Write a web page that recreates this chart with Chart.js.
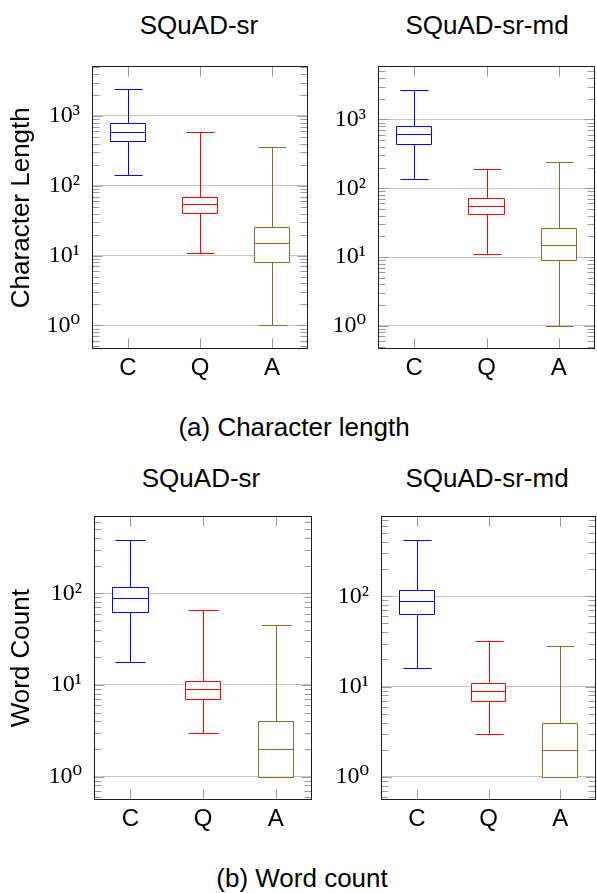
<!DOCTYPE html>
<html>
<head>
<meta charset="utf-8">
<script src="https://cdn.jsdelivr.net/npm/chart.js@4.4.0/dist/chart.umd.min.js"></script>
<style>
    body { margin: 0; background: #fff; }
    #page { position: relative; width: 597px; height: 893px; background: #fff; overflow: hidden; }
    #page canvas { position: absolute; }
    .label { position: absolute; font-family: "Liberation Sans", Arial, sans-serif; font-size: 26px; line-height: 26px; color: #000; white-space: nowrap; transform: translateX(-50%); }
</style>
</head>
<body>
<div id="page">
    <div class="label" style="left:199px; top:12px;">SQuAD-sr</div>
    <div class="label" style="left:487px; top:12px;">SQuAD-sr-md</div>
    <canvas id="charSrChart" width="314" height="349" style="left:0; top:40px;"></canvas>
    <canvas id="charSrMdChart" width="279" height="349" style="left:318px; top:40px;"></canvas>
    <div class="label" style="left:294px; top:414px;">(a) Character length</div>

    <div class="label" style="left:201px; top:465px;">SQuAD-sr</div>
    <div class="label" style="left:487px; top:465px;">SQuAD-sr-md</div>
    <canvas id="wordSrChart" width="316" height="350" style="left:0; top:490px;"></canvas>
    <canvas id="wordSrMdChart" width="276" height="350" style="left:321px; top:490px;"></canvas>
    <div class="label" style="left:302px; top:865px;">(b) Word count</div>
</div>
<script>
// categories: context, question, answer
const categories = ['C', 'Q', 'A'];
const boxColors = ['#0000ff', '#ff0000', '#996633'];

// (a) character length, SQuAD-sr
const charSrLow = [140, 11, 1];
const charSrQ1 = [435, 41, 8];
const charSrMed = [595, 54, 15];
const charSrQ3 = [790, 70, 26];
const charSrHigh = [2400, 590, 355];

// (a) character length, SQuAD-sr-md
const charSrMdLow = [134, 11, 1];
const charSrMdQ1 = [440, 42, 9];
const charSrMdMed = [610, 55, 15];
const charSrMdQ3 = [810, 71, 26];
const charSrMdHigh = [2680, 191, 240];

// (b) word count, SQuAD-sr
const wordSrLow = [18, 3, 1];
const wordSrQ1 = [63, 7, 1];
const wordSrMed = [88, 9, 2];
const wordSrQ3 = [116, 11, 4];
const wordSrHigh = [380, 66, 45];

// (b) word count, SQuAD-sr-md
const wordSrMdLow = [16, 3, 1];
const wordSrMdQ1 = [64, 7, 1];
const wordSrMdMed = [89, 9, 2];
const wordSrMdQ3 = [118, 11, 4];
const wordSrMdHigh = [417, 32, 28];

// y tick labels (decades)
const charTicks = [1, 10, 100, 1000];
const wordTicks = [1, 10, 100];
const superDigits = { '0': '⁰', '1': '¹', '2': '²', '3': '³', '4': '⁴' };

function tickLabel(value) {
    const exp = String(Math.round(Math.log10(value)));
    return '10' + exp.split('').map(d => superDigits[d]).join('');
}

// box outline, whiskers, medians, frame and inner ticks
function boxPlugin(cfg) {
    return {
        id: 'boxWhiskers',
        afterDatasetsDraw(chart) {
            const { ctx, scales: { x, y } } = chart;
            const bars = chart.getDatasetMeta(0).data;
            const step = x.width / categories.length;
            const py = v => Math.round(y.getPixelForValue(v)) + 0.5;
            ctx.save();
            ctx.lineWidth = 1;
            categories.forEach((c, i) => {
                const cx = Math.round(x.getPixelForValue(i)) + 0.5;
                const cap = Math.round(step * 0.2);
                const bl = Math.round(bars[i].x - bars[i].width / 2) + 0.5;
                const br = Math.round(bars[i].x + bars[i].width / 2) - 0.5;
                ctx.strokeStyle = boxColors[i];
                ctx.beginPath();
                // box
                ctx.rect(bl, py(cfg.q3[i]), br - bl, py(cfg.q1[i]) - py(cfg.q3[i]));
                // whiskers
                ctx.moveTo(cx, py(cfg.q3[i]));
                ctx.lineTo(cx, py(cfg.high[i]));
                ctx.moveTo(cx, py(cfg.q1[i]));
                ctx.lineTo(cx, py(cfg.low[i]));
                ctx.moveTo(cx - cap, py(cfg.high[i]));
                ctx.lineTo(cx + cap, py(cfg.high[i]));
                ctx.moveTo(cx - cap, py(cfg.low[i]));
                ctx.lineTo(cx + cap, py(cfg.low[i]));
                // median
                ctx.moveTo(bl, py(cfg.med[i]));
                ctx.lineTo(br, py(cfg.med[i]));
                ctx.stroke();
            });
            ctx.restore();
        },
        afterDraw(chart) {
            const { ctx, chartArea, scales: { x, y } } = chart;
            const left = Math.round(chartArea.left) + 0.5;
            const right = Math.round(chartArea.right) - 0.5;
            const top = Math.round(chartArea.top) + 0.5;
            const bottom = Math.round(chartArea.bottom) - 0.5;
            ctx.save();
            ctx.lineWidth = 1;
            ctx.strokeStyle = '#999999';
            ctx.beginPath();
            // minor and major y ticks, both sides
            const kMin = Math.floor(Math.log10(cfg.yMin));
            const kMax = Math.ceil(Math.log10(cfg.yMax));
            for (let k = kMin; k <= kMax; k++) {
                for (let m = 1; m <= 9; m++) {
                    const v = m * Math.pow(10, k);
                    if (v < cfg.yMin || v > cfg.yMax) continue;
                    const len = m === 1 ? 10 : 7;
                    const yy = Math.round(y.getPixelForValue(v)) + 0.5;
                    ctx.moveTo(left, yy);
                    ctx.lineTo(left + len, yy);
                    ctx.moveTo(right, yy);
                    ctx.lineTo(right - len, yy);
                }
            }
            // category ticks, top and bottom
            categories.forEach((c, i) => {
                const cx = Math.round(x.getPixelForValue(i)) + 0.5;
                ctx.moveTo(cx, top);
                ctx.lineTo(cx, top + 10);
                ctx.moveTo(cx, bottom);
                ctx.lineTo(cx, bottom - 10);
            });
            ctx.stroke();
            // axis frame
            ctx.strokeStyle = '#1a1a1a';
            ctx.strokeRect(left, top, right - left, bottom - top);
            ctx.restore();
        }
    };
}

function makePanel(id, cfg) {
    const ctx = document.getElementById(id).getContext('2d');
    return new Chart(ctx, {
        type: 'bar',
        data: {
            labels: categories,
            datasets: [{
                data: cfg.q1.map((v, i) => [v, cfg.q3[i]]),
                backgroundColor: '#ffffff',
                borderWidth: 0,
                categoryPercentage: 1,
                barPercentage: 0.5
            }]
        },
        options: {
            responsive: false,
            animation: false,
            devicePixelRatio: 1,
            layout: { padding: { top: cfg.padTop, right: cfg.padRight, left: 0, bottom: 0 } },
            plugins: {
                legend: { display: false },
                tooltip: { enabled: false }
            },
            scales: {
                x: {
                    type: 'category',
                    offset: true,
                    grid: { display: false, drawTicks: false },
                    border: { display: false },
                    ticks: {
                        color: '#000',
                        padding: 5,
                        font: { family: '"Liberation Sans", Arial, sans-serif', size: 24 }
                    },
                    afterFit: scale => { scale.height = 40; }
                },
                y: {
                    type: 'logarithmic',
                    min: cfg.yMin,
                    max: cfg.yMax,
                    afterBuildTicks: scale => { scale.ticks = cfg.ticks.map(v => ({ value: v })); },
                    grid: { color: '#c4c4c4', lineWidth: 1, drawTicks: false },
                    border: { display: false },
                    ticks: {
                        color: '#000',
                        padding: 12,
                        autoSkip: false,
                        font: { family: '"Liberation Serif", "DejaVu Serif", serif', size: 24 },
                        callback: value => tickLabel(value)
                    },
                    title: {
                        display: !!cfg.yTitle,
                        text: cfg.yTitle || '',
                        color: '#000',
                        padding: { top: 6, bottom: 0 },
                        font: { family: '"Liberation Sans", Arial, sans-serif', size: 26, weight: 'normal' }
                    },
                    afterFit: scale => { scale.width = cfg.yWidth; }
                }
            }
        },
        plugins: [boxPlugin(cfg)]
    });
}

makePanel('charSrChart', {
    low: charSrLow, q1: charSrQ1, med: charSrMed, q3: charSrQ3, high: charSrHigh,
    yMin: 0.46, yMax: 5100, ticks: charTicks, yTitle: 'Character Length',
    yWidth: 92, padTop: 22, padRight: 6
});
makePanel('charSrMdChart', {
    low: charSrMdLow, q1: charSrMdQ1, med: charSrMdMed, q3: charSrMdQ3, high: charSrMdHigh,
    yMin: 0.46, yMax: 5900, ticks: charTicks,
    yWidth: 60, padTop: 22, padRight: 2
});
makePanel('wordSrChart', {
    low: wordSrLow, q1: wordSrQ1, med: wordSrMed, q3: wordSrQ3, high: wordSrHigh,
    yMin: 0.555, yMax: 690, ticks: wordTicks, yTitle: 'Word Count',
    yWidth: 94, padTop: 23, padRight: 4
});
makePanel('wordSrMdChart', {
    low: wordSrMdLow, q1: wordSrMdQ1, med: wordSrMdMed, q3: wordSrMdQ3, high: wordSrMdHigh,
    yMin: 0.556, yMax: 766, ticks: wordTicks,
    yWidth: 60, padTop: 23, padRight: 1
});
</script>
</body>
</html>
